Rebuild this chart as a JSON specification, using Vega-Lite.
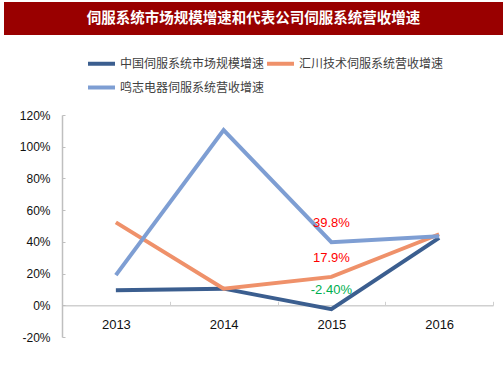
{
  "$schema": "https://vega.github.io/schema/vega-lite/v6.json",
  "padding": {"left": 4, "top": 2, "right": 0, "bottom": 0},
  "background": "white",
  "columns": 1,
  "align": "none",
  "spacing": 74,
  "config": {
    "font": "Liberation Sans",
    "view": {"stroke": null}
  },
  "concat": [
    {
      "width": 499,
      "height": 33,
      "view": {"fill": "#990000", "stroke": null},
      "data": {"values": [{"t": "伺服系统市场规模增速和代表公司伺服系统营收增速"}]},
      "mark": {"type": "text", "color": "white", "fontWeight": "bold", "fontSize": 14.5, "font": "Noto Sans CJK SC", "baseline": "middle", "align": "center"},
      "encoding": {"text": {"field": "t", "type": "nominal"}}
    },
    {
      "spacing": 0,
      "hconcat": [
        {
          "width": 1,
          "height": 1,
          "data": {"values": []},
          "mark": {"type": "text"},
          "encoding": {}
        },
        {
          "width": 431,
          "height": 222,
          "data": {"values": [
            {"year": "2013", "series": "中国伺服系统市场规模增速", "value": 9.5},
            {"year": "2014", "series": "中国伺服系统市场规模增速", "value": 10.5},
            {"year": "2015", "series": "中国伺服系统市场规模增速", "value": -2.4, "label": "-2.40%"},
            {"year": "2016", "series": "中国伺服系统市场规模增速", "value": 42.5},
            {"year": "2013", "series": "汇川技术伺服系统营收增速", "value": 52.3},
            {"year": "2014", "series": "汇川技术伺服系统营收增速", "value": 10.5},
            {"year": "2015", "series": "汇川技术伺服系统营收增速", "value": 17.9, "label": "17.9%"},
            {"year": "2016", "series": "汇川技术伺服系统营收增速", "value": 44.8},
            {"year": "2013", "series": "鸣志电器伺服系统营收增速", "value": 19},
            {"year": "2014", "series": "鸣志电器伺服系统营收增速", "value": 110.5},
            {"year": "2015", "series": "鸣志电器伺服系统营收增速", "value": 39.8, "label": "39.8%"},
            {"year": "2016", "series": "鸣志电器伺服系统营收增速", "value": 43.6}
          ]},
          "encoding": {
            "x": {
              "field": "year", "type": "ordinal",
              "scale": {"paddingInner": 0, "paddingOuter": 0},
              "axis": {
                "title": null, "labelAngle": 0, "offset": -31.7,
                "tickBand": "extent", "tickSize": -4, "tickColor": "#d0d0d0",
                "domainColor": "#d0d0d0", "domainWidth": 1.5,
                "labelFontSize": 13, "labelColor": "#111", "labelPadding": 17
              }
            },
            "y": {
              "field": "value", "type": "quantitative",
              "scale": {"domain": [-20, 120], "nice": false},
              "axis": {
                "values": [-20, 0, 20, 40, 60, 80, 100, 120],
                "labelExpr": "datum.value + '%'",
                "grid": false, "tickSize": -3, "tickColor": "#bfbfbf",
                "domainColor": "#bfbfbf", "domainWidth": 1.5,
                "labelFontSize": 12, "labelColor": "#111", "labelPadding": 15,
                "title": " ", "titleX": -57, "titleY": 0, "titleAngle": 0,
                "titleAlign": "left", "titleBaseline": "top", "titleFontSize": 1
              }
            }
          },
          "layer": [
            {
              "mark": {"type": "line", "strokeWidth": 4},
              "encoding": {
                "color": {
                  "field": "series", "type": "nominal",
                  "scale": {
                    "domain": ["中国伺服系统市场规模增速", "鸣志电器伺服系统营收增速", "汇川技术伺服系统营收增速"],
                    "range": ["#3B5E8F", "#7E9ED3", "#EF916A"]
                  },
                  "legend": {
                    "title": null, "orient": "none", "legendX": 82, "legendY": 46,
                    "columns": 2, "columnPadding": -8, "rowPadding": -1,
                    "symbolType": "stroke", "symbolSize": 729, "symbolStrokeWidth": 4,
                    "labelFont": "Noto Sans CJK SC", "labelFontSize": 12, "labelColor": "#404040",
                    "labelOffset": 3, "labelLimit": 300
                  }
                }
              }
            },
            {
              "transform": [{"filter": "isValid(datum.label)"}],
              "mark": {"type": "text", "dy": -19, "fontSize": 13, "baseline": "middle"},
              "encoding": {
                "text": {"field": "label", "type": "nominal"},
                "color": {"condition": {"test": "datum.value < 0", "value": "#00B050"}, "value": "#FF0000"}
              }
            }
          ]
        }
      ]
    }
  ]
}
